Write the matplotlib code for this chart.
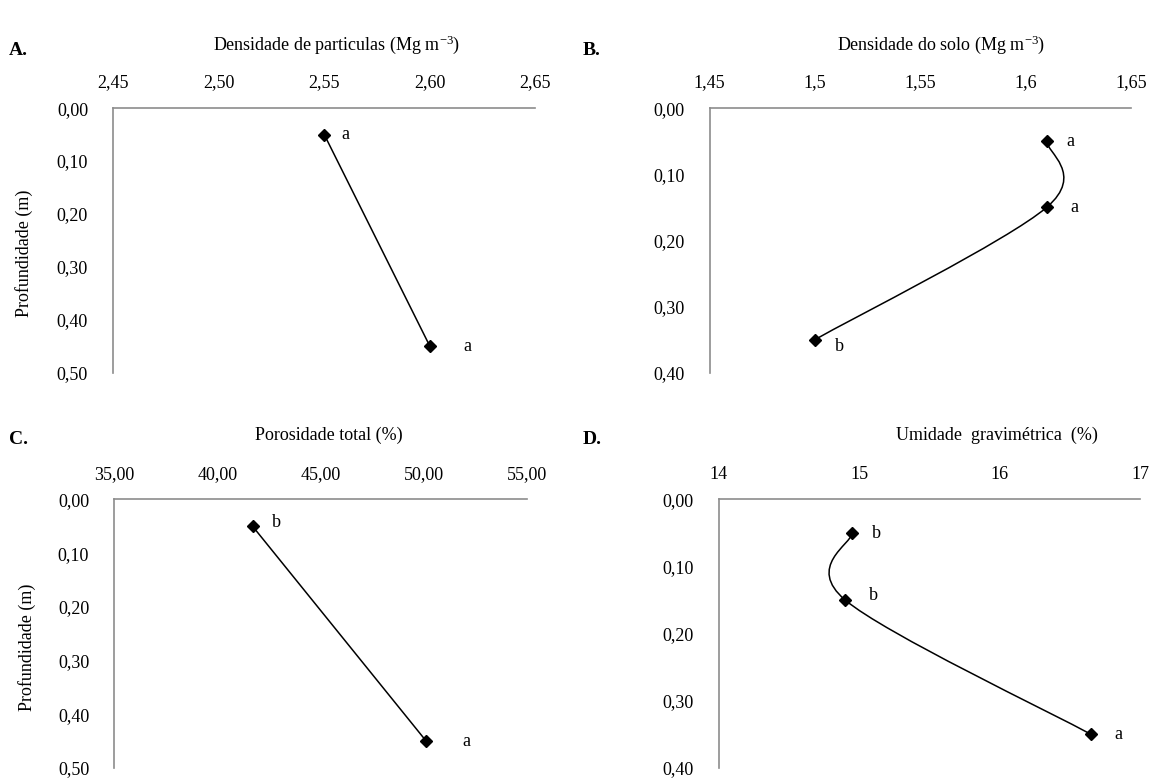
import matplotlib
matplotlib.use("Agg")
import matplotlib.pyplot as plt
from matplotlib.path import Path
from matplotlib.patches import PathPatch
from matplotlib.ticker import FuncFormatter

plt.rcParams["font.family"] = ["Liberation Serif", "DejaVu Serif"]

# dados
prof_A = [0.05, 0.45]
dp_A = [2.55, 2.60]
let_A = ["a", "a"]

prof_B = [0.05, 0.15, 0.35]
ds_B = [1.61, 1.61, 1.50]
let_B = ["a", "a", "b"]

prof_C = [0.05, 0.45]
pt_C = [41.7, 50.1]
let_C = ["b", "a"]

prof_D = [0.05, 0.15, 0.35]
ug_D = [14.95, 14.9, 16.65]
let_D = ["b", "b", "a"]

cinza = "#8c8c8c"
fs = 13


def curva_suave(ax, xs, ys):
    # suavizacao tipo Excel (bezier com tangentes de Catmull-Rom)
    pts = list(zip(xs, ys))
    n = len(pts)
    verts = [pts[0]]
    codes = [Path.MOVETO]
    for i in range(n - 1):
        p0 = pts[max(i - 1, 0)]
        p1 = pts[i]
        p2 = pts[i + 1]
        p3 = pts[min(i + 2, n - 1)]
        c1 = (p1[0] + (p2[0] - p0[0]) / 6, p1[1] + (p2[1] - p0[1]) / 6)
        c2 = (p2[0] - (p3[0] - p1[0]) / 6, p2[1] - (p3[1] - p1[1]) / 6)
        verts += [c1, c2, p2]
        codes += [Path.CURVE4] * 3
    ax.add_patch(PathPatch(Path(verts, codes), fill=False, color="black", lw=1.1))


def painel(rect, xs, ys, letras, xlim, xticks, xfmt, ylim, yticks, titulo, tit_x,
           offs, ylabel=False):
    ax = fig.add_axes(rect)
    curva_suave(ax, xs, ys)
    ax.plot(xs, ys, linestyle="none", marker="D", color="black", markersize=6)
    for x, y, l, o in zip(xs, ys, letras, offs):
        ax.annotate(l, (x, y), xytext=o, textcoords="offset points",
                    ha="left", va="center", fontsize=fs)
    ax.set_xlim(*xlim)
    ax.set_ylim(ylim[1], ylim[0])
    ax.set_xticks(xticks)
    ax.set_yticks(yticks)
    ax.xaxis.set_major_formatter(FuncFormatter(xfmt))
    ax.yaxis.set_major_formatter(FuncFormatter(lambda v, p: f"{v:.2f}".replace(".", ",")))
    ax.xaxis.tick_top()
    ax.tick_params(length=0, labelsize=fs, pad=12)
    ax.tick_params(axis="y", pad=18)
    for s in ["right", "bottom"]:
        ax.spines[s].set_visible(False)
    for s in ["top", "left"]:
        ax.spines[s].set_color(cinza)
        ax.spines[s].set_linewidth(1.2)
    ax.text(tit_x, 1.24, titulo, transform=ax.transAxes, ha="center", va="center",
            fontsize=fs)
    if ylabel:
        ax.set_ylabel("Profundidade (m)", fontsize=fs)
        ax.yaxis.set_label_coords(-0.19, 0.45)
    return ax


fig = plt.figure(figsize=(11.54, 7.78), dpi=100)

fmt2 = lambda v, p: f"{v:.2f}".replace(".", ",")
fmtg = lambda v, p: f"{v:g}".replace(".", ",")

painel([0.098, 0.521, 0.366, 0.340], dp_A, prof_A, let_A, (2.45, 2.65),
       [2.45, 2.50, 2.55, 2.60, 2.65], fmt2, (0, 0.5), [0, 0.1, 0.2, 0.3, 0.4, 0.5],
       "Densidade de particulas (Mg m$\\mathregular{^{-3}}$)", 0.53,
       [(12, 0), (24, 0)], ylabel=True)

painel([0.615, 0.521, 0.365, 0.340], ds_B, prof_B, let_B, (1.45, 1.65),
       [1.45, 1.50, 1.55, 1.60, 1.65], fmtg, (0, 0.4), [0, 0.1, 0.2, 0.3, 0.4],
       "Densidade do solo (Mg m$\\mathregular{^{-3}}$)", 0.55,
       [(14, 0), (17, 0), (14, -5)])

painel([0.099, 0.013, 0.358, 0.345], pt_C, prof_C, let_C, (35, 55),
       [35, 40, 45, 50, 55], fmt2, (0, 0.5), [0, 0.1, 0.2, 0.3, 0.4, 0.5],
       "Porosidade total (%)", 0.52, [(14, 3), (26, 0)], ylabel=True)

painel([0.623, 0.013, 0.365, 0.345], ug_D, prof_D, let_D, (14, 17),
       [14, 15, 16, 17], fmtg, (0, 0.4), [0, 0.1, 0.2, 0.3, 0.4],
       "Umidade  gravimétrica  (%)", 0.66, [(14, 0), (17, 3), (17, 0)])

for x, y, t in [(0.008, 0.935, "A."), (0.505, 0.935, "B."),
                (0.008, 0.435, "C."), (0.505, 0.435, "D.")]:
    fig.text(x, y, t, fontsize=fs + 1, fontweight="bold", va="center")

fig.savefig("out.png", dpi=100)
